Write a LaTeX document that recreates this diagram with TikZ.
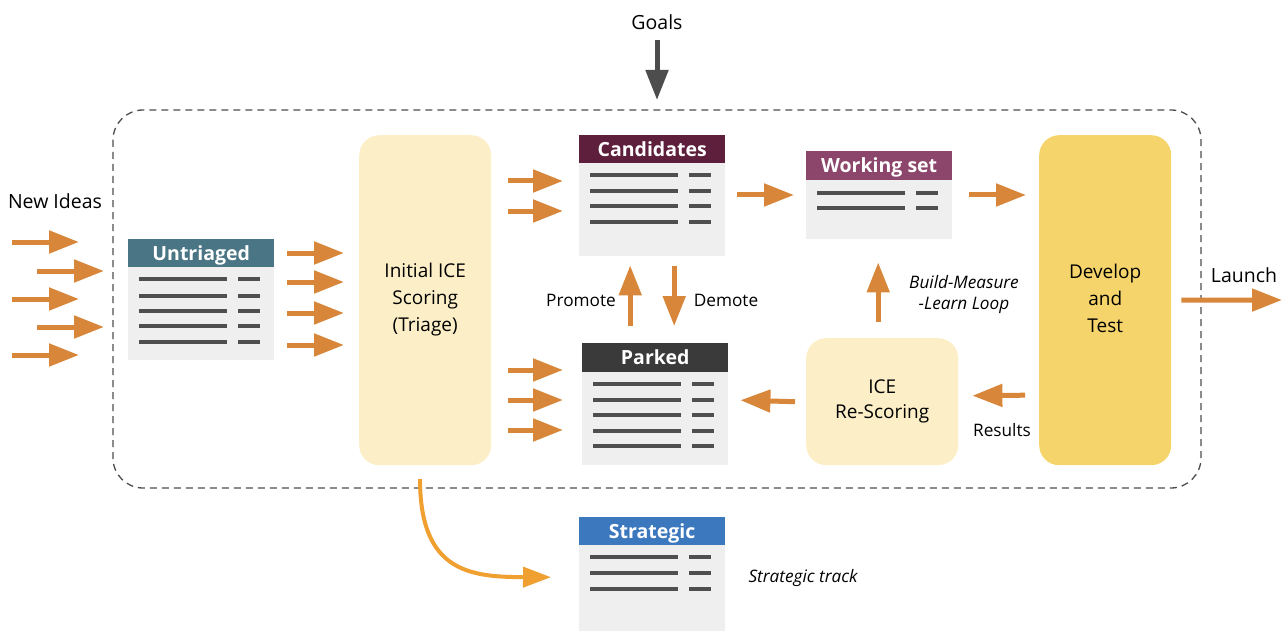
\documentclass[tikz,border=0pt]{standalone}
\usepackage{fontspec}
\setmainfont{Open Sans}
\usetikzlibrary{arrows.meta,calc}
\definecolor{orng}{HTML}{D8873A}
\definecolor{orngl}{HTML}{F0A030}
\definecolor{graya}{HTML}{4D4D4D}
\definecolor{bodyg}{HTML}{EFEFEF}
\definecolor{rowg}{HTML}{4F4F4F}
\definecolor{paley}{HTML}{FCEFC8}
\definecolor{goldy}{HTML}{F5D46B}
\definecolor{hteal}{HTML}{4A7584}
\definecolor{hmaroon}{HTML}{5E1F3C}
\definecolor{hplum}{HTML}{8C466B}
\definecolor{hdark}{HTML}{3A3A3A}
\definecolor{hblue}{HTML}{3C78BE}

\tikzset{
  oarrow/.style={draw=orng, line width=5pt, -{Triangle[length=30pt,width=22pt]}},
  garrow/.style={draw=graya, line width=5pt, -{Triangle[length=30pt,width=22pt]}},
  carrow/.style={draw=orngl, line width=4pt, -{Triangle[length=28pt,width=20pt]}},
  listbody/.style={fill=bodyg, inner sep=0pt, anchor=north west},
  listhead/.style={inner sep=0pt, anchor=north west, text=white,
    text height=15pt, text depth=1pt,
    font=\fontsize{19.5}{21}\selectfont\bfseries},
  rowline/.style={draw=rowg, line width=4pt},
  stagebox/.style={rounded corners=20pt, inner sep=0pt, anchor=north west,
    align=center, font=\fontsize{19}{27}\selectfont},
  lbl/.style={inner sep=0pt, font=\fontsize{19.5}{24}\selectfont},
  slbl/.style={inner sep=0pt, font=\fontsize{17.2}{21}\selectfont},
  ilbl/.style={inner sep=0pt, align=center, font=\fontsize{17.2}{21}\selectfont\itshape},
  frame/.style={draw=graya, line width=1.3pt, dash pattern=on 7pt off 5pt,
    rounded corners=30pt}
}

% list card: name, x, y, width, header height, total height, colour, title
\newcommand\ListCard[8]{%
  \node[listbody, minimum width=#4pt, minimum height=#6pt] (#1) at (#2,#3) {};
  \node[listhead, fill=#7, minimum width=#4pt, minimum height=#5pt] (#1-h) at (#2,#3) {#8};
}
% rows of a list card: name, list of offsets from the top
\newcommand\CardRows[2]{%
  \foreach \yy in {#2} {
    \draw[rowline] ($(#1.north west)+(11,\yy)$) -- ++(88,0);
    \draw[rowline] ($(#1.north west)+(110,\yy)$) -- ++(22,0);
  }
}

\begin{document}
\begin{tikzpicture}[x=1pt,y=-1pt]
\useasboundingbox (0,0) rectangle (1284,631);

% boundary of the pipeline
\draw[frame] (113,110) rectangle (1201,488);

% stages
\node[stagebox, fill=paley, minimum width=132pt, minimum height=330pt] (triage) at (359,135) {};
\node[lbl, align=center, font=\fontsize{19}{27}\selectfont] at ($(triage.center)+(0,-1)$) {Initial ICE\\Scoring\\(Triage)};
\node[stagebox, fill=goldy, minimum width=132pt, minimum height=330pt] (dev) at (1039,135) {};
\node[lbl, align=center, font=\fontsize{19}{27}\selectfont] at ($(dev.center)+(0,-2)$) {Develop\\and\\Test};
\node[stagebox, fill=paley, minimum width=152pt, minimum height=127pt] (rescore) at (806,338) {};
\node[lbl, align=center, font=\fontsize{19}{25}\selectfont] at (rescore.center) {ICE\\Re-Scoring};

% list cards
\ListCard{untri}{128}{239}{146}{28}{121}{hteal}{Untriaged}
\CardRows{untri}{40,57,72,87,103}
\ListCard{cand}{579}{135}{146}{28}{121}{hmaroon}{Candidates}
\CardRows{cand}{40,56,71,87}
\ListCard{work}{806}{151}{146}{29}{88}{hplum}{Working set}
\CardRows{work}{42,57}
\ListCard{park}{582}{343}{146}{29}{122}{hdark}{Parked}
\CardRows{park}{41,57,72,88,103}
\ListCard{strat}{579}{517}{146}{28}{120}{hblue}{Strategic}
\CardRows{strat}{40,56,72}

% labels
\node[lbl] (goals) at (657,22) {Goals};
\node[lbl] (newideas) at (55,201) {New Ideas};
\node[lbl] (launch) at (1244,275) {Launch};
\node[slbl] (promote) at (581,300) {Promote};
\node[slbl] (demote) at (726,300) {Demote};
\node[slbl] (results) at (1002,430) {Results};
\node[ilbl] (bml) at (964,295) {Build-Measure\\-Learn Loop};
\node[ilbl] (strack) at (803,578) {Strategic track};

% goals feed in from above
\coordinate (g0) at (657,40);
\draw[garrow] (g0) -- ($(g0)+(0,60)$);

% incoming ideas
\foreach \xx/\yy in {12/242, 37/271, 12/299, 37/327, 12/355}
  \draw[oarrow] (\xx,\yy) -- ++(67,0);

% untriaged to triage
\foreach \yy in {253,282,313,345}
  \draw[oarrow] ($(untri.north east)+(13,\yy-239)$) -- ($(triage.north west)+(-15,\yy-135)$);

% triage to candidates and parked
\foreach \yy in {181,211}
  \draw[oarrow] ($(triage.north east)+(17,\yy-135)$) -- ($(cand.north west)+(-16,\yy-135)$);
\foreach \yy in {370,400,430}
  \draw[oarrow] ($(triage.north east)+(17,\yy-135)$) -- ($(park.north west)+(-19,\yy-343)$);

% candidates to working set to development
\draw[oarrow] ($(cand.north east)+(12,60)$) -- ($(work.north west)+(-12,44)$);
\draw[oarrow] ($(work.north east)+(17,44)$) -- ($(dev.north west)+(-13,60)$);

% promote / demote
\draw[oarrow] ($(park-h.north)+(-25,-17)$) -- ($(cand.south)+(-22,9)$);
\draw[oarrow] ($(cand.south)+(22,10)$) -- ($(park-h.north)+(19,-17)$);

% build-measure-learn loop
\draw[oarrow] ($(rescore.north)+(-4,-16)$) -- ($(work.south)+(-1,23)$);
\draw[oarrow] ($(dev.west)+(-14,95)$) -- ($(rescore.east)+(14,-6)$);
\draw[oarrow] ($(rescore.west)+(-11,0)$) -- ($(park.east)+(12,-4)$);

% launch
\draw[oarrow] ($(dev.east)+(10,0)$) -- (1282,300);

% strategic track
\coordinate (s0) at (420,479);
\draw[carrow] (s0) .. controls (420,572) and (470,577) .. ($(strat.west)+(-28,0)$);
\end{tikzpicture}
\end{document}
